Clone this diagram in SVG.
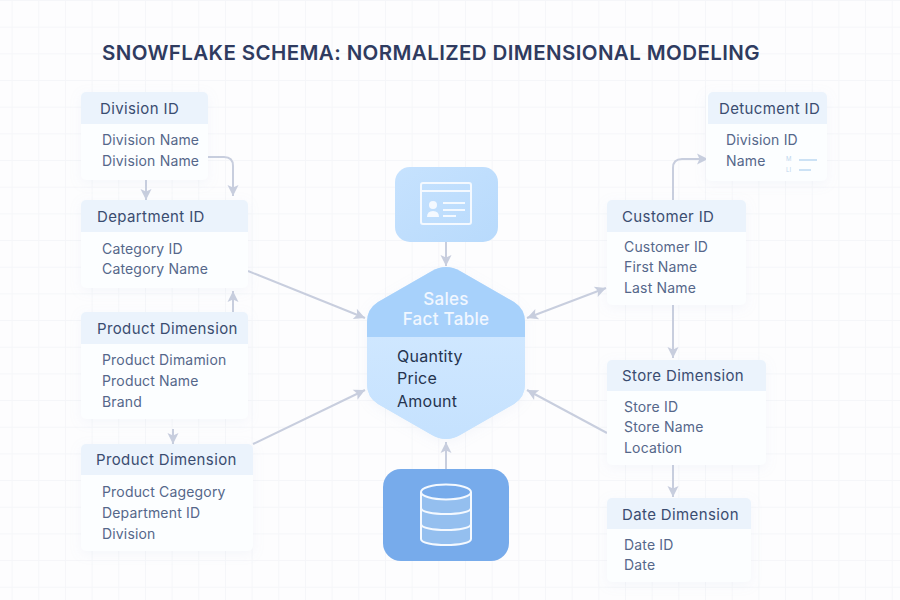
<svg xmlns="http://www.w3.org/2000/svg" width="900" height="600" viewBox="0 0 900 600">
<style>
text{font-family:Inter,"Liberation Sans",sans-serif}
.title{font-size:20.5px;font-weight:600;fill:#2f3b60;letter-spacing:.4px}
.h{font-size:15px;font-weight:400;fill:#3a4c70;letter-spacing:.38px}
.t{font-size:14px;fill:#55678a;letter-spacing:.17px}
.card{fill:#fcfeff;filter:url(#sh)}
.head{fill:#ebf3fc}
.c{fill:none;stroke:#c8cede;stroke-width:2;marker-end:url(#a)}
.f{font-size:16px;fill:#25344f;letter-spacing:.25px}
.ft{font-size:17px;font-weight:500;fill:#f1f7ff;letter-spacing:.3px}
</style>
<defs>
<marker id="a" markerUnits="userSpaceOnUse" markerWidth="14" markerHeight="14" refX="12" refY="7" orient="auto"><path d="M1 1.5L12 7L1 12.5L3.5 7Z" fill="#c8cede"/></marker>
<marker id="b" markerUnits="userSpaceOnUse" markerWidth="14" markerHeight="14" refX="2" refY="7" orient="auto"><path d="M13 1.500L2 7L13 12.500L10.500 7Z" fill="#c8cede"/></marker>
<filter id="sh" x="-15%" y="-15%" width="130%" height="135%"><feDropShadow dx="0" dy="3" stdDeviation="6" flood-color="#a8bcd8" flood-opacity=".1"/></filter>
<pattern id="gp" width="26.67" height="26.67" patternUnits="userSpaceOnUse" x="11.6" y="0"><path d="M.5 0V26.67M0 .5H26.67" fill="none" stroke="#f5f6f9" stroke-width="1"/></pattern>
<linearGradient id="ic" x1="0" y1="0" x2="1" y2="1"><stop offset="0" stop-color="#c6e2fe"/><stop offset="1" stop-color="#b8dafc"/></linearGradient>
<linearGradient id="fb" x1="0" y1="0" x2="0" y2="1"><stop offset="0" stop-color="#cfe7ff"/><stop offset="1" stop-color="#c4e1fe"/></linearGradient>
<clipPath id="hx"><path id="hp" d="M432 271Q446 263 460 271L514 302Q525 309 525 322V384Q525 397 514 404L460 435Q446 443 432 435L378 404Q367 397 367 384V322Q367 309 378 302Z"/></clipPath>
</defs>
<rect width="900" height="600" fill="#fdfdfe"/>
<rect id="grid" width="900" height="600" fill="url(#gp)"/>
<text class="title" x="102" y="60">SNOWFLAKE SCHEMA: NORMALIZED DIMENSIONAL MODELING</text>
<g id="connectors">
<path class="c" d="M146 180V200"/>
<path class="c" d="M208 157H224Q233 157 233 166V196"/>
<path class="c" d="M233 312V291"/>
<path class="c" d="M173 429V444"/>
<path class="c" d="M248 271L365 318"/>
<path class="c" d="M253 444L365 390"/>
<path class="c" d="M446 242V266"/>
<path class="c" d="M446 469V442"/>
<path class="c" d="M673 200V168Q673 159 682 159H708"/>
<path class="c" d="M673 305V358"/>
<path class="c" d="M673 465V497"/>
<path class="c" d="M607 433L527 390"/>
<path class="c" style="marker-start:url(#b)" d="M527 318L606 288"/>
</g>
<g id="div"><rect class="card" x="81" y="92" width="127" height="88" rx="5"/><path class="head" d="M81 124V97a5 5 0 0 1 5-5H203a5 5 0 0 1 5 5V124Z"/><text class="h" x="100" y="114">Division ID</text><text class="t" x="102" y="145">Division Name</text><text class="t" x="102" y="166">Division Name</text></g>
<g id="dept"><rect class="card" x="81" y="200" width="167" height="88" rx="5"/><path class="head" d="M81 232V205a5 5 0 0 1 5-5H243a5 5 0 0 1 5 5V232Z"/><text class="h" x="97" y="222">Department ID</text><text class="t" x="102" y="254">Category ID</text><text class="t" x="102" y="274">Category Name</text></g>
<g id="prod1"><rect class="card" x="81" y="312" width="167" height="107" rx="5"/><path class="head" d="M81 344V317a5 5 0 0 1 5-5H243a5 5 0 0 1 5 5V344Z"/><text class="h" x="97" y="334">Product Dimension</text><text class="t" x="102" y="365">Product Dimamion</text><text class="t" x="102" y="386">Product Name</text><text class="t" x="102" y="407">Brand</text></g>
<g id="prod2"><rect class="card" x="81" y="444" width="172" height="107" rx="5"/><path class="head" d="M81 475V449a5 5 0 0 1 5-5H248a5 5 0 0 1 5 5V475Z"/><text class="h" x="96" y="465">Product Dimension</text><text class="t" x="102" y="497">Product Cagegory</text><text class="t" x="102" y="518">Department ID</text><text class="t" x="102" y="539">Division</text></g>
<g id="doc"><rect class="card" x="706" y="92" width="121" height="89" rx="5"/><path class="head" d="M708 124V97a5 5 0 0 1 5-5H822a5 5 0 0 1 5 5V124Z"/><text class="h" x="719" y="114">Detucment ID</text><text class="t" x="726" y="145">Division ID</text><text class="t" x="726" y="166">Name</text><text x="786" y="161" font-size="6" fill="#bcd6ee">M</text><text x="786" y="172" font-size="6" fill="#bcd6ee">LI</text><path d="M799 160H817M799 170H811" stroke="#bcd9f2" stroke-width="1.6" fill="none"/></g>
<g id="cust"><rect class="card" x="607" y="200" width="139" height="105" rx="5"/><path class="head" d="M607 232V205a5 5 0 0 1 5-5H741a5 5 0 0 1 5 5V232Z"/><text class="h" x="622" y="222">Customer ID</text><text class="t" x="624" y="252">Customer ID</text><text class="t" x="624" y="272">First Name</text><text class="t" x="624" y="293">Last Name</text></g>
<g id="store"><rect class="card" x="607" y="360" width="159" height="105" rx="5"/><path class="head" d="M607 391V365a5 5 0 0 1 5-5H761a5 5 0 0 1 5 5V391Z"/><text class="h" x="622" y="381">Store Dimension</text><text class="t" x="624" y="412">Store ID</text><text class="t" x="624" y="432">Store Name</text><text class="t" x="624" y="453">Location</text></g>
<g id="date"><rect class="card" x="607" y="498" width="144" height="84" rx="5"/><path class="head" d="M607 529V503a5 5 0 0 1 5-5H746a5 5 0 0 1 5 5V529Z"/><text class="h" x="622" y="520">Date Dimension</text><text class="t" x="624" y="550">Date ID</text><text class="t" x="624" y="570">Date</text></g>
<g id="icon-card"><rect x="395" y="167" width="103" height="75" rx="15" fill="url(#ic)"/><g fill="none" stroke="#f4f9ff" stroke-width="2"><rect x="421" y="183" width="50" height="41" rx="2"/><path d="M421 191H471M443 203H465M443 210H465M443 216H456"/></g><circle cx="433" cy="205" r="4" fill="#f4f9ff"/><path d="M427 217Q427 211 433 211Q439 211 439 217Z" fill="#f4f9ff"/></g>
<g id="fact"><use href="#hp" fill="#c8e3fe" filter="url(#sh)"/><g clip-path="url(#hx)"><rect x="360" y="337" width="170" height="110" fill="url(#fb)"/><rect x="360" y="260" width="170" height="77" fill="#a7d1fb"/></g><text class="ft" x="446" y="305" text-anchor="middle">Sales</text><text class="ft" x="446" y="325" text-anchor="middle">Fact Table</text><text class="f" x="397" y="362">Quantity</text><text class="f" x="397" y="384">Price</text><text class="f" x="397" y="407">Amount</text></g>
<g id="db-card"><rect x="383" y="469" width="126" height="92" rx="18" fill="#77abeb"/><path d="M421 492V539C421 547 471 547 471 539V492Z" fill="#94bfef"/><g fill="none" stroke="#f4f9ff" stroke-width="2"><ellipse cx="446" cy="492" rx="25" ry="7.500" fill="#77abeb"/><path d="M421 492V539C421 547 471 547 471 539V492M421 508C421 516 471 516 471 508M421 524C421 532 471 532 471 524"/></g></g>
</svg>
